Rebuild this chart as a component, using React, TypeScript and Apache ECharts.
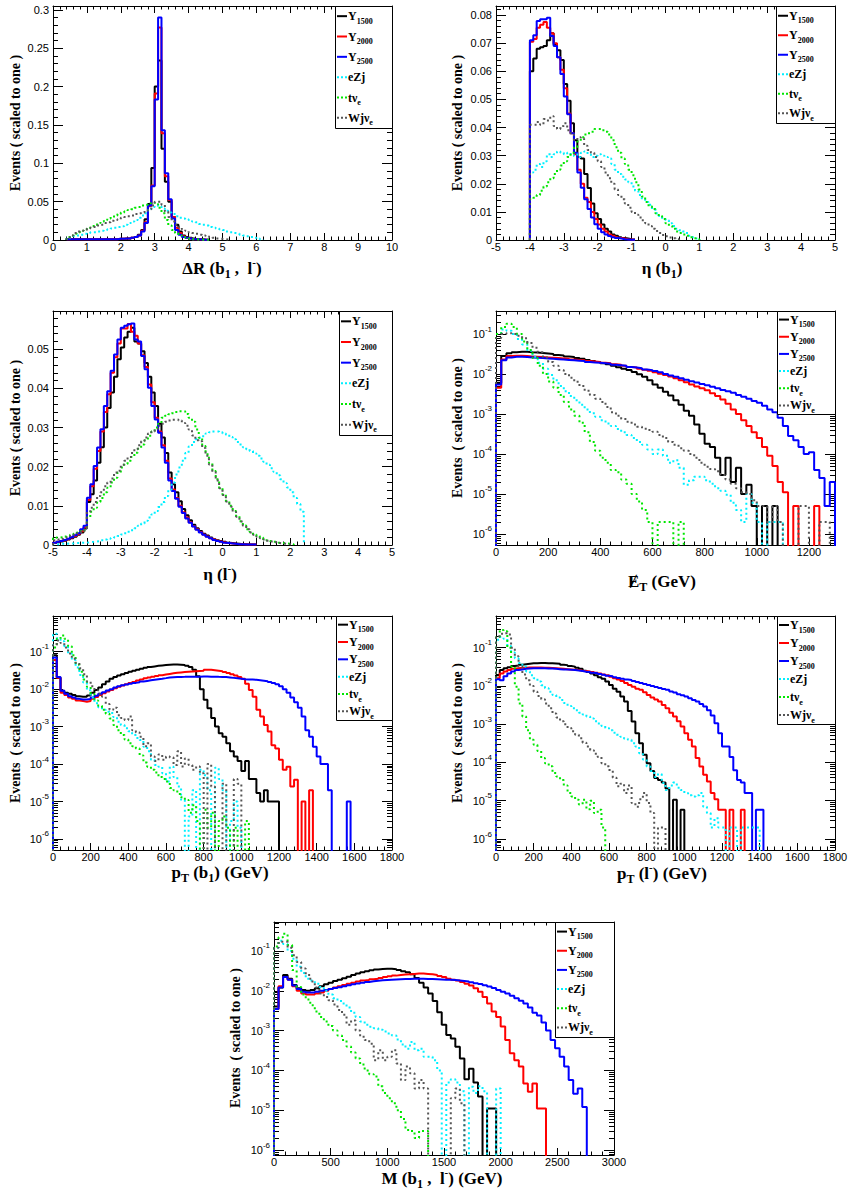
import React, { useEffect, useRef } from 'react';
import * as echarts from 'echarts';

// ---------------- DATA ----------------
// Panel 1: ΔR(b1, l-)  bins of 0.1 starting at 0.4
const DR_START = 0.4;
const DR_STEP = 0.1;
const dR_Y1500 = [0.001,0.001,0.001,0.001,0.001,0.001,0.001,0.001,0.001,0.001,0.001,0.001,0.001,0.001,0.001,0.0015,0.0015,0.002,0.002,0.003,0.004,0.007,0.013,0.027,0.047,0.094,0.2,0.234,0.119,0.076,0.05,0.03,0.02,0.011,0.006,0.004,0.003,0.002,0.001,0.001,0.0005,0.0003];
const dR_Y2000 = [0.001,0.001,0.001,0.001,0.001,0.001,0.001,0.001,0.001,0.001,0.001,0.001,0.001,0.001,0.001,0.0015,0.0015,0.002,0.002,0.003,0.004,0.006,0.012,0.023,0.044,0.071,0.191,0.277,0.139,0.083,0.052,0.03,0.016,0.009,0.005,0.003,0.002,0.001,0.001,0.0005,0.0003,0.0002];
const dR_Y2500 = [0.001,0.001,0.001,0.001,0.001,0.001,0.001,0.001,0.001,0.001,0.001,0.001,0.001,0.001,0.001,0.0015,0.0015,0.002,0.002,0.003,0.004,0.006,0.011,0.022,0.045,0.07,0.183,0.29,0.143,0.087,0.053,0.028,0.013,0.007,0.004,0.003,0.002,0.001,0.001,0.0005,0.0003,0.0002];
const dR_eZj = [0.002,0.004,0.005,0.006,0.007,0.008,0.009,0.01,0.01,0.011,0.012,0.013,0.014,0.015,0.016,0.017,0.018,0.02,0.022,0.024,0.026,0.029,0.032,0.035,0.039,0.043,0.045,0.044,0.041,0.038,0.036,0.034,0.031,0.029,0.028,0.027,0.026,0.024,0.023,0.021,0.02,0.019,0.017,0.016,0.015,0.014,0.013,0.011,0.01,0.009,0.0085,0.007,0.006,0.005,0.004,0.003,0.002,0.001];
const dR_tv = [0.004,0.006,0.008,0.01,0.012,0.014,0.016,0.018,0.02,0.022,0.024,0.026,0.028,0.03,0.032,0.034,0.036,0.037,0.039,0.04,0.042,0.043,0.045,0.046,0.048,0.049,0.047,0.042,0.035,0.026,0.019,0.013,0.009,0.006,0.004,0.003,0.002,0.001,0.0007,0.0005,0.0003,0.0002];
const dR_Wjv = [0.003,0.006,0.009,0.011,0.012,0.013,0.015,0.016,0.017,0.019,0.02,0.022,0.023,0.025,0.026,0.027,0.029,0.03,0.031,0.032,0.034,0.035,0.036,0.038,0.04,0.045,0.05,0.05,0.046,0.037,0.03,0.024,0.02,0.017,0.014,0.012,0.01,0.009,0.008,0.007,0.006,0.005,0.004,0.003,0.002,0.0015,0.001,0.0005];

// Panel 2: η(b1)  bins of 0.1 starting at -4.0
const EB_START = -4.0;
const EB_STEP = 0.1;
const etab_Y1500 = [0.06,0.0645,0.068,0.0685,0.069,0.071,0.0735,0.0695,0.0675,0.064,0.0555,0.0495,0.0415,0.0355,0.0295,0.029,0.0235,0.0185,0.013,0.0095,0.0075,0.0055,0.004,0.003,0.002,0.0015,0.001,0.0007,0.0005,0.0003,0.0002];
const etab_Y2000 = [0.0705,0.0715,0.0755,0.0765,0.0775,0.0755,0.0735,0.07,0.065,0.0605,0.054,0.045,0.038,0.0305,0.025,0.02,0.015,0.0135,0.01,0.0075,0.0055,0.004,0.003,0.002,0.0015,0.001,0.0007,0.0005,0.0003,0.0002,0.0001];
const etab_Y2500 = [0.071,0.0728,0.0779,0.0785,0.0785,0.079,0.0725,0.069,0.065,0.059,0.051,0.0447,0.038,0.031,0.024,0.0186,0.0145,0.011,0.008,0.0056,0.004,0.0028,0.002,0.0014,0.001,0.0007,0.0005,0.0003,0.0002,0.0001,0.0001];
const etab_eZj = [0.024,0.025,0.027,0.026,0.028,0.0305,0.0295,0.0305,0.0315,0.031,0.0305,0.031,0.03,0.0305,0.0295,0.031,0.0315,0.0305,0.0295,0.03,0.0305,0.03,0.0295,0.029,0.027,0.025,0.0235,0.0225,0.0215,0.0205,0.019,0.0175,0.016,0.0145,0.0135,0.0125,0.011,0.0095,0.0085,0.0075,0.007,0.006,0.005,0.004,0.0035,0.003,0.0025,0.0015,0.001,0.0005];
const etab_tv = [0.0145,0.015,0.016,0.0175,0.019,0.0205,0.022,0.0235,0.025,0.0265,0.028,0.0295,0.031,0.033,0.035,0.0365,0.0375,0.038,0.0385,0.0395,0.0395,0.039,0.0385,0.0375,0.0355,0.033,0.031,0.029,0.027,0.025,0.023,0.0205,0.018,0.0155,0.0135,0.012,0.011,0.0095,0.0085,0.0075,0.006,0.005,0.004,0.003,0.0025,0.002,0.0015,0.001,0.0006,0.0003];
const etab_Wjv = [0.041,0.041,0.042,0.041,0.043,0.0425,0.044,0.0405,0.0395,0.0405,0.0415,0.039,0.0375,0.0355,0.0365,0.036,0.0335,0.032,0.031,0.0295,0.028,0.026,0.024,0.022,0.02,0.018,0.016,0.0145,0.013,0.0115,0.01,0.009,0.008,0.007,0.006,0.005,0.004,0.0032,0.0025,0.0018,0.0013,0.0009,0.0006,0.0003];

// Panel 3: η(l-)  bins of 0.1 starting at -5.0
const EL_START = -5.0;
const EL_STEP = 0.1;
const etal_Y1500 = [0.0005,0.0007,0.0009,0.0011,0.0014,0.0017,0.0021,0.0026,0.0032,0.0042,0.011,0.013,0.0165,0.021,0.025,0.03,0.035,0.039,0.043,0.0475,0.0505,0.053,0.0545,0.0555,0.052,0.0515,0.0495,0.0465,0.043,0.039,0.0355,0.031,0.0275,0.0235,0.0185,0.0155,0.0135,0.0112,0.0092,0.0076,0.0063,0.0052,0.0043,0.0036,0.0029,0.0024,0.0019,0.0015,0.0012,0.001,0.0008,0.0006,0.0005,0.0004,0.0003,0.0002,0.0002,0.0001,0.0001,0.0001];
const etal_Y2000 = [0.0006,0.0008,0.001,0.0012,0.0015,0.0019,0.0023,0.0028,0.0035,0.0045,0.0115,0.015,0.0195,0.024,0.029,0.034,0.0385,0.044,0.048,0.0515,0.0553,0.0553,0.0565,0.0545,0.0535,0.0515,0.0485,0.0455,0.041,0.0365,0.0325,0.029,0.0255,0.0215,0.017,0.0142,0.012,0.01,0.0084,0.007,0.0058,0.0048,0.004,0.0033,0.0027,0.0022,0.0017,0.0014,0.0011,0.0009,0.0007,0.0005,0.0004,0.0003,0.0002,0.0002,0.0001,0.0001,0.0001,0.0001];
const etal_Y2500 = [0.0006,0.0008,0.001,0.0013,0.0016,0.002,0.0025,0.003,0.004,0.0049,0.0121,0.0155,0.0202,0.0249,0.0296,0.0355,0.0393,0.0445,0.0487,0.0525,0.0555,0.056,0.0564,0.0566,0.0525,0.052,0.0483,0.0449,0.0402,0.0355,0.0321,0.0287,0.0249,0.021,0.0165,0.0138,0.0118,0.0098,0.0082,0.0068,0.0057,0.0047,0.0039,0.0032,0.0026,0.0021,0.0017,0.0013,0.001,0.0008,0.0006,0.0005,0.0004,0.0003,0.0002,0.0002,0.0001,0.0001,0.0001,0.0001];
const etal_eZj = [0.0002,0.0002,0.0003,0.0003,0.0004,0.0004,0.0005,0.0005,0.0006,0.0006,0.0007,0.0008,0.0009,0.001,0.0012,0.0014,0.0016,0.0018,0.002,0.0023,0.0027,0.003,0.0034,0.0038,0.0043,0.0049,0.0055,0.0062,0.007,0.0078,0.0087,0.0097,0.011,0.0125,0.0142,0.016,0.018,0.0198,0.0215,0.0235,0.0252,0.0263,0.027,0.0274,0.0278,0.0285,0.0288,0.029,0.029,0.0288,0.0285,0.0282,0.0276,0.027,0.0263,0.0257,0.025,0.0245,0.024,0.0234,0.0228,0.0221,0.0213,0.0205,0.0196,0.0187,0.0178,0.0168,0.0158,0.0147,0.0135,0.012,0.0105,0.0085];
const etal_tv = [0.0017,0.0019,0.002,0.0022,0.0024,0.0026,0.0029,0.0032,0.0035,0.0038,0.007,0.0085,0.0095,0.011,0.012,0.0135,0.0146,0.016,0.0172,0.0185,0.0198,0.0207,0.0215,0.0225,0.0236,0.0246,0.0257,0.0268,0.0279,0.029,0.03,0.031,0.0325,0.033,0.0334,0.0337,0.034,0.0342,0.0342,0.0335,0.0325,0.0315,0.0295,0.0274,0.0253,0.0232,0.021,0.0189,0.0168,0.0146,0.0129,0.0112,0.01,0.0087,0.0074,0.0061,0.005,0.004,0.0033,0.0027,0.0023,0.0019,0.0015,0.0012,0.001,0.0008,0.0006,0.0005,0.0004,0.0003,0.0002];
const etal_Wjv = [0.0012,0.0014,0.0016,0.0018,0.002,0.0023,0.0026,0.003,0.0033,0.0037,0.0085,0.0095,0.011,0.0125,0.0135,0.015,0.016,0.017,0.0185,0.019,0.0205,0.0215,0.0225,0.0235,0.0245,0.0255,0.0265,0.0275,0.0285,0.029,0.0297,0.0305,0.031,0.0315,0.0318,0.032,0.0321,0.0318,0.0312,0.0305,0.0295,0.028,0.0268,0.0265,0.0248,0.0228,0.0206,0.0186,0.0165,0.0145,0.0128,0.0111,0.0098,0.0085,0.0072,0.006,0.0049,0.004,0.0032,0.0026,0.0021,0.0017,0.0014,0.0011,0.0009,0.0007,0.0005,0.0004,0.0003,0.0002,0.0001];

// Panel 4: missing ET  bins of 20 GeV starting at 0
const MET_START = 0;
const MET_STEP = 20;
const met_Y1500 = [6e-3,2.8e-2,3.3e-2,3.5e-2,3.6e-2,3.6e-2,3.5e-2,3.45e-2,3.35e-2,3.25e-2,3.15e-2,3e-2,2.9e-2,2.75e-2,2.65e-2,2.5e-2,2.4e-2,2.25e-2,2.1e-2,2e-2,1.85e-2,1.75e-2,1.6e-2,1.48e-2,1.36e-2,1.25e-2,1.12e-2,9.8e-3,8.5e-3,7e-3,5.5e-3,4.5e-3,3.6e-3,2.9e-3,2.2e-3,1.7e-3,1.2e-3,9e-4,5.5e-4,3.2e-4,1.8e-4,1.5e-4,8e-5,3e-5,8e-5,2e-5,4.5e-5,1e-5,1.7e-5,5e-6,0,5e-6,0,5e-6];
const met_Y2000 = [4.5e-3,2.3e-2,2.8e-2,2.85e-2,2.85e-2,2.8e-2,2.75e-2,2.7e-2,2.65e-2,2.6e-2,2.55e-2,2.5e-2,2.45e-2,2.4e-2,2.3e-2,2.25e-2,2.2e-2,2.1e-2,2.05e-2,2e-2,1.9e-2,1.85e-2,1.75e-2,1.7e-2,1.6e-2,1.5e-2,1.45e-2,1.35e-2,1.28e-2,1.2e-2,1.1e-2,1.02e-2,9.5e-3,8.6e-3,7.8e-3,7e-3,6.2e-3,5.5e-3,4.9e-3,4.4e-3,3.9e-3,3.3e-3,2.8e-3,2.3e-3,1.8e-3,1.3e-3,1e-3,7e-4,5e-4,3.5e-4,2.5e-4,1.5e-4,9e-5,5e-5,2e-5,1.1e-5,0,5e-6,0,0,0,5e-6];
const met_Y2500 = [5.5e-3,2.2e-2,2.6e-2,2.7e-2,2.7e-2,2.65e-2,2.6e-2,2.55e-2,2.5e-2,2.45e-2,2.4e-2,2.35e-2,2.3e-2,2.25e-2,2.2e-2,2.15e-2,2.1e-2,2e-2,1.95e-2,1.9e-2,1.85e-2,1.8e-2,1.7e-2,1.65e-2,1.6e-2,1.5e-2,1.45e-2,1.4e-2,1.3e-2,1.25e-2,1.18e-2,1.1e-2,1e-2,9.2e-3,8.5e-3,7.8e-3,7.2e-3,6.6e-3,6.1e-3,5.6e-3,5.2e-3,4.8e-3,4.4e-3,4e-3,3.7e-3,3.4e-3,3e-3,2.7e-3,2.4e-3,2.1e-3,1.9e-3,1.6e-3,1.3e-3,1.1e-3,8e-4,5e-4,2.8e-4,2.2e-4,1.5e-4,1e-4,1.1e-4,4e-5,2.5e-5,5e-6,2e-5];
const met_eZj = [1e-1,1.3e-1,1.2e-1,1e-1,7.5e-2,5.5e-2,3.8e-2,2.7e-2,1.9e-2,1.35e-2,9.5e-3,7e-3,5e-3,3.7e-3,2.8e-3,2.2e-3,1.7e-3,1.3e-3,1.05e-3,8.5e-4,7e-4,5.8e-4,5e-4,4.2e-4,3.5e-4,3e-4,2.5e-4,2e-4,1.7e-4,1.3e-4,1e-4,1.3e-4,9e-5,6e-5,7e-5,4.5e-5,1.7e-5,2.2e-5,2.7e-5,2.7e-5,2.2e-5,1.8e-5,1.4e-5,1.2e-5,9.6e-6,6e-6,4e-6,2e-6,1e-5,6e-6,2e-6,0,2e-6,2e-6,2e-6,0];
const met_tv = [1e-1,1.5e-1,1.8e-1,1.5e-1,1e-1,6.5e-2,4e-2,2.5e-2,1.6e-2,1e-2,6.5e-3,4.5e-3,3e-3,2e-3,1.3e-3,9e-4,6e-4,3.5e-4,2e-4,1.2e-4,8e-5,6e-5,4e-5,3.5e-5,2.3e-5,1.8e-5,1e-5,6.5e-6,4e-6,2e-6,0,2e-6,2e-6,2e-6,0,2e-6,0];
const met_Wjv = [8e-2,1e-1,1.05e-1,1e-1,9e-2,7.8e-2,6e-2,4.5e-2,3.5e-2,2.6e-2,2e-2,1.6e-2,1.25e-2,1e-2,8e-3,6.4e-3,5e-3,3.8e-3,3e-3,2.4e-3,2e-3,1.5e-3,1.1e-3,9e-4,7.5e-4,6.4e-4,5.5e-4,4.8e-4,4.3e-4,4e-4,3.6e-4,3e-4,2.5e-4,2e-4,1.7e-4,1.4e-4,1.2e-4,1e-4,8e-5,6e-5,4.8e-5,4.2e-5,3.7e-5,3e-5,2.3e-5,1.8e-5,1.4e-5,1.1e-5,1e-5,7e-6,5e-6,5e-6,2e-6,5e-6,2e-6,0,0,0,5e-6,5e-6,0,0,2e-6,2e-6,0];

// Panel 5: pT(b1)  bins of 20 GeV starting at 0
const PTB_START = 0;
const PTB_STEP = 20;
const ptb_Y1500 = [8e-2,2e-2,9e-3,8e-3,7.5e-3,7e-3,6.5e-3,6.3e-3,6.3e-3,6.8e-3,8e-3,9.5e-3,1.1e-2,1.35e-2,1.6e-2,1.9e-2,2.1e-2,2.3e-2,2.5e-2,2.7e-2,2.9e-2,3.1e-2,3.3e-2,3.5e-2,3.7e-2,3.9e-2,4.05e-2,4.2e-2,4.3e-2,4.4e-2,4.5e-2,4.55e-2,4.55e-2,4.5e-2,4.4e-2,4.2e-2,3.9e-2,3.3e-2,2.2e-2,1e-2,5.2e-3,3.1e-3,1.7e-3,1e-3,6.6e-4,5.4e-4,3.6e-4,2.2e-4,1.6e-4,1.2e-4,6.5e-5,1.2e-4,4e-5,4e-5,1.7e-5,1e-5,2e-5,1e-5,1e-5,1e-5];
const ptb_Y2000 = [6e-2,2e-2,8e-3,7e-3,6e-3,5.5e-3,5e-3,4.8e-3,4.6e-3,4.8e-3,5.5e-3,6.2e-3,7e-3,7.8e-3,8.6e-3,9.5e-3,1.05e-2,1.15e-2,1.25e-2,1.35e-2,1.45e-2,1.55e-2,1.7e-2,1.8e-2,1.95e-2,2.05e-2,2.15e-2,2.25e-2,2.35e-2,2.45e-2,2.55e-2,2.65e-2,2.75e-2,2.8e-2,2.85e-2,2.9e-2,2.95e-2,3e-2,3.05e-2,3.1e-2,3.3e-2,3.3e-2,3.2e-2,3.1e-2,3e-2,2.85e-2,2.7e-2,2.5e-2,2.3e-2,2.1e-2,1.9e-2,1.4e-2,9.5e-3,6.3e-3,2.8e-3,1.85e-3,1.1e-3,7.4e-4,3.2e-4,2.6e-4,1.3e-4,7e-5,8.5e-5,2.5e-5,3.8e-5,0,1e-5,0,2e-5];
const ptb_Y2500 = [7e-2,2.1e-2,9e-3,7.5e-3,6.5e-3,6e-3,5.5e-3,5.3e-3,5.3e-3,5.5e-3,6e-3,6.7e-3,7.5e-3,8.3e-3,9.2e-3,1e-2,1.1e-2,1.2e-2,1.27e-2,1.33e-2,1.4e-2,1.47e-2,1.53e-2,1.6e-2,1.66e-2,1.72e-2,1.78e-2,1.84e-2,1.9e-2,1.97e-2,2.05e-2,2.08e-2,2.1e-2,2.12e-2,2.13e-2,2.15e-2,2.15e-2,2.15e-2,2.15e-2,2.17e-2,2.17e-2,2.15e-2,2.15e-2,2.13e-2,2.12e-2,2.1e-2,2.05e-2,2e-2,1.95e-2,1.9e-2,1.85e-2,1.82e-2,1.8e-2,1.77e-2,1.73e-2,1.68e-2,1.62e-2,1.55e-2,1.45e-2,1.35e-2,1.2e-2,1e-2,8e-3,6e-3,4.5e-3,3.2e-3,1.85e-3,8e-4,5.4e-4,2.9e-4,1.6e-4,1e-4,1e-4,2e-5,0,0,0,0,1e-5];
const ptb_eZj = [3e-1,2.3e-1,1.9e-1,1.4e-1,9e-2,6e-2,3.8e-2,2.4e-2,1.5e-2,9.4e-3,6e-3,4.2e-3,3.3e-3,2.8e-3,2.5e-3,2.3e-3,1.8e-3,1.35e-3,1.1e-3,9e-4,7.5e-4,6e-4,5e-4,4.4e-4,2.9e-4,2.2e-4,1.3e-4,9.5e-5,8.5e-5,5.7e-5,3.4e-5,8.5e-5,4.5e-5,2.5e-5,1.1e-5,0,4e-6,2e-5,0,7e-5,5e-5,2e-5,0,8e-5,4e-5,2e-5,0,3e-6,1e-5,2e-6,0];
const ptb_tv = [1.3e-1,2.2e-1,2.7e-1,2.2e-1,1.4e-1,8e-2,4.5e-2,2.9e-2,1.8e-2,1.15e-2,7.5e-3,5e-3,3.6e-3,2.8e-3,2.2e-3,1.65e-3,1.1e-3,8e-4,6e-4,4.5e-4,3.6e-4,3e-4,2.6e-4,1.7e-4,1.1e-4,8.5e-5,7e-5,6e-5,4.5e-5,4e-5,3.4e-5,2.3e-5,2e-5,1.6e-5,1.3e-5,1.1e-5,5e-6,8e-6,3e-6,0,6e-6,2e-6,5e-6,0,3e-6,4e-6,2e-6,0,2e-6,0,0,3e-6,0];
const ptb_Wjv = [1.5e-1,2e-1,1.7e-1,1.3e-1,9e-2,6.5e-2,5e-2,3.6e-2,2.5e-2,1.6e-2,1.2e-2,9.4e-3,7.5e-3,6.3e-3,4e-3,2.8e-3,3.2e-3,2e-3,1.7e-3,1.5e-3,1.85e-3,8e-4,7e-4,5.4e-4,3e-4,3.6e-4,1.6e-4,1.2e-4,1.8e-4,1.3e-4,1.6e-4,1.5e-4,9.5e-5,2.2e-4,8.6e-5,1.4e-4,9.5e-5,7e-5,8.6e-5,5.7e-5,0,1e-4,2.5e-5,0,0,3e-5,0,0,4e-5,3e-5,0];

// Panel 6: pT(l-)  bins of 20 GeV starting at 0
const PTL_START = 0;
const PTL_STEP = 20;
const ptl_Y1500 = [1.9e-2,2.6e-2,2.9e-2,3.1e-2,3.3e-2,3.4e-2,3.6e-2,3.7e-2,3.8e-2,3.9e-2,3.9e-2,3.95e-2,3.95e-2,3.9e-2,3.9e-2,3.85e-2,3.8e-2,3.6e-2,3.5e-2,3.3e-2,3.2e-2,3e-2,2.8e-2,2.5e-2,2.3e-2,2.1e-2,1.9e-2,1.7e-2,1.55e-2,1.3e-2,1.06e-2,8.5e-3,7e-3,5.3e-3,3.9e-3,2.2e-3,1.17e-3,5.8e-4,3.2e-4,1.6e-4,9.6e-5,6e-5,3.9e-5,3.5e-5,3e-5,2.1e-5,0,1.06e-5,0,5.8e-6,0];
const ptl_Y2000 = [1.6e-2,2.1e-2,2.4e-2,2.6e-2,2.8e-2,2.9e-2,3e-2,3e-2,3.05e-2,3.05e-2,3.05e-2,3.05e-2,3e-2,3e-2,2.95e-2,2.9e-2,2.85e-2,2.8e-2,2.75e-2,2.7e-2,2.65e-2,2.6e-2,2.5e-2,2.45e-2,2.4e-2,2.3e-2,2.2e-2,2.1e-2,2e-2,1.9e-2,1.75e-2,1.6e-2,1.48e-2,1.35e-2,1.2e-2,1.06e-2,9.5e-3,8.5e-3,7.9e-3,6.8e-3,5.8e-3,5e-3,4.4e-3,3.9e-3,3.2e-3,2.6e-3,2e-3,1.6e-3,1.2e-3,8.7e-4,5.8e-4,3.9e-4,2.6e-4,1.3e-4,7.9e-5,4.8e-5,3.2e-5,1.6e-5,1.1e-5,5.8e-6,5.8e-6,0,5.8e-6,0,0,5.8e-6];
const ptl_Y2500 = [1.5e-2,1.4e-2,1.8e-2,2.1e-2,2.4e-2,2.6e-2,2.7e-2,2.8e-2,2.85e-2,2.9e-2,2.9e-2,2.9e-2,2.9e-2,2.85e-2,2.85e-2,2.8e-2,2.75e-2,2.7e-2,2.7e-2,2.65e-2,2.6e-2,2.55e-2,2.45e-2,2.35e-2,2.3e-2,2.2e-2,2.15e-2,2.05e-2,1.95e-2,1.85e-2,1.8e-2,1.7e-2,1.62e-2,1.55e-2,1.48e-2,1.43e-2,1.35e-2,1.27e-2,1.2e-2,1.13e-2,1.06e-2,1e-2,9.4e-3,8.8e-3,8.3e-3,7.9e-3,7.2e-3,6.7e-3,6.1e-3,5.7e-3,5.3e-3,4.8e-3,4.3e-3,3.9e-3,3.4e-3,2.9e-3,2.3e-3,1.7e-3,1.06e-3,5.8e-4,2.6e-4,2.6e-4,1.4e-4,6.3e-5,3.5e-5,3e-5,1.6e-5,1.6e-5,0,5.8e-6,5.8e-6,0];
const ptl_eZj = [1.6e-1,1.9e-1,1.7e-1,1.1e-1,7.5e-2,5.3e-2,4e-2,3.2e-2,2.4e-2,1.9e-2,1.6e-2,1.3e-2,1.05e-2,8.7e-3,7e-3,5.8e-3,5e-3,4.3e-3,3.6e-3,3e-3,2.6e-3,2.3e-3,2e-3,1.8e-3,1.6e-3,1.4e-3,1.2e-3,1.05e-3,9e-4,8e-4,7e-4,6e-4,5.3e-4,4.7e-4,4.2e-4,3.9e-4,3.2e-4,2.6e-4,1.75e-4,1.2e-4,7.9e-5,6e-5,4.2e-5,5e-5,2.9e-5,1.9e-5,2.5e-5,3e-5,2.2e-5,1.9e-5,1.6e-5,1.4e-5,1.3e-5,1.4e-5,1.6e-5,7e-6,4.8e-6,2e-6,3.5e-6,2e-6,2e-6,0,2e-6,2e-6,0,2e-6,2e-6,2e-6,2e-6,2e-6,0];
const ptl_tv = [1.9e-1,2.9e-1,2.7e-1,1e-1,3.2e-2,9.6e-3,3.5e-3,1.6e-3,7e-4,3.9e-4,2.9e-4,2e-4,1.3e-4,9.6e-5,8e-5,5.3e-5,4.3e-5,3.5e-5,2.5e-5,1.6e-5,1.3e-5,1.06e-5,8e-6,1.06e-5,6e-6,1e-5,4.8e-6,5.8e-6,2e-6,0];
const ptl_Wjv = [2e-1,2.3e-1,2.4e-1,2.2e-1,1e-1,6e-2,3.2e-2,2e-2,1.4e-2,1e-2,7.1e-3,5.5e-3,4.5e-3,3.5e-3,2.6e-3,1.9e-3,1.5e-3,1.2e-3,1e-3,8e-4,6.5e-4,5.3e-4,4.3e-4,3.3e-4,2.6e-4,2.1e-4,1.7e-4,1.4e-4,9.6e-5,8e-5,6.4e-5,4e-5,2.4e-5,2.8e-5,1.6e-5,2.5e-5,8.7e-6,7e-6,1.1e-5,1.6e-5,8.7e-6,4.8e-6,0,2e-6,2e-6,0];

// Panel 7: M(b1, l-)  bins of 40 GeV starting at 0
const M_START = 0;
const M_STEP = 40;
const m_Y1500 = [4e-3,1.2e-2,2.5e-2,2e-2,1.4e-2,1.15e-2,1.05e-2,1e-2,1.05e-2,1.15e-2,1.3e-2,1.45e-2,1.6e-2,1.75e-2,1.9e-2,2.05e-2,2.25e-2,2.5e-2,2.7e-2,2.9e-2,3.1e-2,3.25e-2,3.4e-2,3.5e-2,3.55e-2,3.55e-2,3.45e-2,3.3e-2,3.1e-2,2.9e-2,2.6e-2,2.1e-2,1.6e-2,1.2e-2,8.5e-3,5.5e-3,2.9e-3,1.4e-3,7.7e-4,6.3e-4,3.9e-4,2e-4,6e-5,1.1e-4,5e-5,2.2e-5,0,1.1e-5,1.1e-5];
const m_Y2000 = [3.5e-3,1.3e-2,2.2e-2,1.9e-2,1.3e-2,1e-2,8.5e-3,8e-3,8e-3,8.5e-3,9e-3,1e-2,1.1e-2,1.2e-2,1.3e-2,1.4e-2,1.5e-2,1.6e-2,1.7e-2,1.8e-2,1.85e-2,1.95e-2,2e-2,2.1e-2,2.2e-2,2.3e-2,2.4e-2,2.5e-2,2.55e-2,2.6e-2,2.65e-2,2.7e-2,2.7e-2,2.65e-2,2.6e-2,2.5e-2,2.35e-2,2.2e-2,2e-2,1.9e-2,1.8e-2,1.65e-2,1.5e-2,1.35e-2,1.15e-2,9.4e-3,7e-3,4.8e-3,3e-3,2.2e-3,1.26e-3,5.8e-4,2.7e-4,1.8e-4,1.25e-4,4.7e-5,2.9e-5,4.7e-5,1.1e-5,1.1e-5];
const m_Y2500 = [3.5e-3,1.2e-2,2.2e-2,1.9e-2,1.35e-2,1.1e-2,9.5e-3,9e-3,9e-3,9.5e-3,1e-2,1.05e-2,1.1e-2,1.17e-2,1.23e-2,1.3e-2,1.37e-2,1.45e-2,1.52e-2,1.6e-2,1.67e-2,1.73e-2,1.78e-2,1.83e-2,1.87e-2,1.9e-2,1.93e-2,1.95e-2,1.97e-2,1.98e-2,2e-2,2e-2,2e-2,1.98e-2,1.97e-2,1.95e-2,1.93e-2,1.9e-2,1.88e-2,1.85e-2,1.8e-2,1.75e-2,1.7e-2,1.63e-2,1.55e-2,1.47e-2,1.38e-2,1.28e-2,1.18e-2,1.05e-2,9.4e-3,8.5e-3,7.5e-3,6.5e-3,5.6e-3,4.8e-3,3.8e-3,2.8e-3,2.4e-3,1.6e-3,1e-3,5.8e-4,3.6e-4,2.2e-4,1.25e-4,5.7e-5,2.6e-5,3.5e-5,1.2e-5];
const m_eZj = [1.2e-1,1.8e-1,1.5e-1,1e-1,6.4e-2,4e-2,2.8e-2,2e-2,1.8e-2,1.5e-2,1.25e-2,1e-2,8e-3,6.5e-3,5.5e-3,4.8e-3,3.8e-3,2.8e-3,2.2e-3,1.7e-3,1.4e-3,1.25e-3,1.15e-3,1.05e-3,9.5e-4,8.5e-4,7.5e-4,6e-4,4.5e-4,3.5e-4,5.2e-4,3.2e-4,3.5e-4,2.2e-4,2.2e-4,1.8e-4,1e-4,0,5e-5,6e-5,5e-5,3e-5,0,3.9e-5,2.7e-5,4e-5,3e-5,0,0,3.5e-5,0];
const m_tv = [1.3e-1,2.2e-1,2.7e-1,1.4e-1,3.3e-2,1.25e-2,8e-3,6e-3,4.3e-3,3e-3,2.2e-3,1.7e-3,1.3e-3,1e-3,7.5e-4,5.8e-4,4e-4,2.8e-4,2e-4,1.4e-4,1e-4,8e-5,7e-5,4e-5,2.7e-5,2e-5,1.5e-5,1e-5,6e-6,3.2e-6,3e-6,2e-6,3e-6,3e-6,0];
const m_Wjv = [1.2e-1,1.7e-1,1.7e-1,1.2e-1,7.8e-2,5.3e-2,3.6e-2,2.5e-2,1.7e-2,1.2e-2,8.5e-3,7e-3,5.8e-3,4.5e-3,3.3e-3,2.5e-3,1.4e-3,1.8e-3,1e-3,7e-4,5.8e-4,4.7e-4,1.8e-4,3.2e-4,1.8e-4,2.2e-4,3.2e-4,1.5e-4,5.7e-5,1.25e-4,8.5e-5,3.5e-5,5.7e-5,3.5e-5,0,0,0,0,0,2e-5,3.5e-5,1.5e-5,0];

// Legend labels: [main, subscript]
const LEGEND_LABELS: [string, string][] = [['Y', '1500'], ['Y', '2000'], ['Y', '2500'], ['eZj', ''], ['tν', 'e'], ['Wjν', 'e']];

// ---------------- STYLE / LAYOUT ----------------
const SERIF = '"Liberation Serif", "DejaVu Serif", serif';
const SANS = '"Liberation Sans", Arial, sans-serif';
const COLORS = ['#000000', '#ff0000', '#0000ff', '#00f0ff', '#00e600', '#555555'];
const DOTTED = [false, false, false, true, true, true];
const Y_TITLE_LIN = 'Events ( scaled to one )';
const Y_TITLE_LOG = 'Events  ( scaled to one )';

type Panel = {
  grid: { left: number; top: number; width: number; height: number };
  x: [number, number, number];
  xShowMax: boolean;
  log: boolean;
  y: [number, number, number];
  start: number;
  step: number;
  data: number[][];
  xTitle: string;
  xTitlePos: [number, number];
  yTitle: string;
  yTitlePos: [number, number];
  legend: [number, number, number, number];
};

const PANELS: Panel[] = [
  { grid: { left: 53, top: 6, width: 339, height: 234 }, x: [0, 10, 1], xShowMax: true, log: false, y: [0, 0.305, 0.05],
    start: DR_START, step: DR_STEP, data: [dR_Y1500, dR_Y2000, dR_Y2500, dR_eZj, dR_tv, dR_Wjv],
    xTitle: '{a|ΔR (b}{s|1}{a| ,  l}{p|-}{a|)}', xTitlePos: [222, 268], yTitle: Y_TITLE_LIN, yTitlePos: [15, 123], legend: [335, 6, 57, 122] },
  { grid: { left: 496, top: 6, width: 339, height: 234 }, x: [-5, 5, 1], xShowMax: true, log: false, y: [0, 0.0832, 0.01],
    start: EB_START, step: EB_STEP, data: [etab_Y1500, etab_Y2000, etab_Y2500, etab_eZj, etab_tv, etab_Wjv],
    xTitle: '{a|η (b}{s|1}{a|)}', xTitlePos: [662, 268], yTitle: Y_TITLE_LIN, yTitlePos: [457, 123], legend: [776, 6, 59, 117] },
  { grid: { left: 53, top: 311, width: 339, height: 234 }, x: [-5, 5, 1], xShowMax: true, log: false, y: [0, 0.0598, 0.01],
    start: EL_START, step: EL_STEP, data: [etal_Y1500, etal_Y2000, etal_Y2500, etal_eZj, etal_tv, etal_Wjv],
    xTitle: '{a|η (l}{p|-}{a|)}', xTitlePos: [220, 574], yTitle: Y_TITLE_LIN, yTitlePos: [15, 428], legend: [339, 311, 53, 124] },
  { grid: { left: 496, top: 311, width: 339, height: 234 }, x: [0, 1300, 200], xShowMax: false, log: true, y: [5.3e-7, 0.376, 0],
    start: MET_START, step: MET_STEP, data: [met_Y1500, met_Y2000, met_Y2500, met_eZj, met_tv, met_Wjv],
    xTitle: '{a|Ɇ}{s|T}{a| (GeV)}', xTitlePos: [662, 581], yTitle: Y_TITLE_LOG, yTitlePos: [457, 428], legend: [777, 311, 58, 103] },
  { grid: { left: 53, top: 616, width: 339, height: 234 }, x: [0, 1800, 200], xShowMax: true, log: true, y: [5.08e-7, 0.897, 0],
    start: PTB_START, step: PTB_STEP, data: [ptb_Y1500, ptb_Y2000, ptb_Y2500, ptb_eZj, ptb_tv, ptb_Wjv],
    xTitle: '{a|p}{s|T}{a| (b}{s|1}{a|) (GeV)}', xTitlePos: [220, 872], yTitle: Y_TITLE_LOG, yTitlePos: [15, 733], legend: [336, 616, 56, 104] },
  { grid: { left: 496, top: 616, width: 339, height: 234 }, x: [0, 1800, 200], xShowMax: true, log: true, y: [5.16e-7, 0.673, 0],
    start: PTL_START, step: PTL_STEP, data: [ptl_Y1500, ptl_Y2000, ptl_Y2500, ptl_eZj, ptl_tv, ptl_Wjv],
    xTitle: '{a|p}{s|T}{a| (l}{p|-}{a|) (GeV)}', xTitlePos: [662, 873], yTitle: Y_TITLE_LOG, yTitlePos: [457, 733], legend: [777, 616, 58, 108] },
  { grid: { left: 274, top: 922, width: 340, height: 233 }, x: [0, 3000, 500], xShowMax: true, log: true, y: [7.5e-7, 0.533, 0],
    start: M_START, step: M_STEP, data: [m_Y1500, m_Y2000, m_Y2500, m_eZj, m_tv, m_Wjv],
    xTitle: '{a|M (b}{s|1}{a| ,  l}{p|-}{a|) (GeV)}', xTitlePos: [442, 1178], yTitle: Y_TITLE_LOG, yTitlePos: [235, 1038], legend: [555, 922, 59, 115] },
];

const LOG_FLOOR = 1e-9;

function toSteps(start: number, step: number, vals: number[], floor: number): [number, number][] {
  const pts: [number, number][] = [[start, floor]];
  for (let i = 0; i < vals.length; i++) {
    pts.push([+(start + i * step).toFixed(6), vals[i] > 0 ? vals[i] : floor]);
  }
  pts.push([+(start + vals.length * step).toFixed(6), floor]);
  return pts;
}

const TITLE_RICH = {
  a: { fontFamily: SERIF, fontWeight: 'bold', fontSize: 17, fill: '#000', lineHeight: 24, verticalAlign: 'middle' },
  s: { fontFamily: SERIF, fontWeight: 'bold', fontSize: 12, fill: '#000', lineHeight: 12, verticalAlign: 'bottom' },
  p: { fontFamily: SERIF, fontWeight: 'bold', fontSize: 11, fill: '#000', lineHeight: 16, verticalAlign: 'top' },
};
const LEG_RICH = {
  m: { fontFamily: SERIF, fontWeight: 'bold', fontSize: 12, fill: '#000', lineHeight: 18, verticalAlign: 'middle' },
  s: { fontFamily: SERIF, fontWeight: 'bold', fontSize: 8, fill: '#000', lineHeight: 10, verticalAlign: 'bottom' },
};

function buildOption() {
  const grid: any[] = [];
  const xAxis: any[] = [];
  const yAxis: any[] = [];
  const series: any[] = [];
  const graphic: any[] = [];

  PANELS.forEach((p, gi) => {
    grid.push({ ...p.grid, containLabel: false });
    const axisLine = { show: true, onZero: false, lineStyle: { color: '#000', width: 1 } };
    const xBase = {
      type: 'value', gridIndex: gi, min: p.x[0], max: p.x[1], interval: p.x[2],
      axisLine, splitLine: { show: false },
      axisTick: { show: true, inside: true, length: 7, lineStyle: { color: '#000' } },
      minorTick: { show: true, splitNumber: 5, length: 3.5, lineStyle: { color: '#000' } },
    };
    xAxis.push({ ...xBase, position: 'bottom',
      axisLabel: { show: true, fontFamily: SANS, fontSize: 11, color: '#000', margin: 1, showMaxLabel: p.xShowMax,
        formatter: (v: number) => String(+v.toFixed(3)) } });
    xAxis.push({ ...xBase, position: 'top', axisLabel: { show: false } });

    const yBase: any = p.log
      ? { type: 'log', logBase: 10, gridIndex: gi, min: p.y[0], max: p.y[1],
          axisLine, splitLine: { show: false },
          axisTick: { show: true, inside: true, length: 10, lineStyle: { color: '#000' } },
          minorTick: { show: true, splitNumber: 9, length: 5, lineStyle: { color: '#000' } } }
      : { type: 'value', gridIndex: gi, min: p.y[0], max: p.y[1], interval: p.y[2],
          axisLine, splitLine: { show: false },
          axisTick: { show: true, inside: true, length: 10, lineStyle: { color: '#000' } },
          minorTick: { show: true, splitNumber: 5, length: 5, lineStyle: { color: '#000' } } };
    const yLabel = p.log
      ? { show: true, margin: 4, showMinLabel: false, showMaxLabel: false,
          formatter: (v: number) => `{b|10}{s|${Math.round(Math.log10(v))}}`,
          rich: {
            b: { fontFamily: SANS, fontSize: 11, color: '#000', lineHeight: 18, verticalAlign: 'middle' },
            s: { fontFamily: SANS, fontSize: 8, color: '#000', lineHeight: 10, verticalAlign: 'top' },
          } }
      : { show: true, margin: 4, showMaxLabel: false, fontFamily: SANS, fontSize: 11, color: '#000',
          formatter: (v: number) => String(+v.toFixed(4)) };
    yAxis.push({ ...yBase, position: 'left', axisLabel: yLabel });
    yAxis.push({ ...yBase, position: 'right', axisLabel: { show: false } });

    const floor = p.log ? LOG_FLOOR : 0;
    p.data.forEach((vals, si) => {
      series.push({
        type: 'line', name: LEGEND_LABELS[si].join(''), xAxisIndex: 2 * gi, yAxisIndex: 2 * gi,
        step: 'end', showSymbol: false, symbol: 'none', silent: true, clip: true,
        lineStyle: { color: COLORS[si], width: 2, type: DOTTED[si] ? [2, 3] : 'solid' },
        data: toSteps(p.start, p.step, vals, floor),
        z: 2,
      });
    });

    // axis titles
    graphic.push({ type: 'text', x: p.xTitlePos[0], y: p.xTitlePos[1], z: 20,
      style: { text: p.xTitle, rich: TITLE_RICH, textAlign: 'center', align: 'center', textVerticalAlign: 'middle', verticalAlign: 'middle' } });
    graphic.push({ type: 'text', x: p.yTitlePos[0], y: p.yTitlePos[1], rotation: Math.PI / 2, z: 20,
      style: { text: p.yTitle, font: `bold 14px ${SERIF}`, fill: '#000', textAlign: 'center', align: 'center', textVerticalAlign: 'middle', verticalAlign: 'middle' } });

    // legend box
    const [lx, ly, lw, lh] = p.legend;
    graphic.push({ type: 'rect', z: 30, shape: { x: lx + 0.5, y: ly + 0.5, width: lw, height: lh },
      style: { fill: '#fff', stroke: '#000', lineWidth: 1 } });
    LEGEND_LABELS.forEach(([m, s], i) => {
      const cy = ly + lh * (i + 0.5) / 6;
      graphic.push({ type: 'line', z: 31, shape: { x1: lx + 2, y1: cy, x2: lx + 12, y2: cy },
        style: { stroke: COLORS[i], lineWidth: 2, lineDash: DOTTED[i] ? [2, 2] : null } });
      graphic.push({ type: 'text', z: 31, x: lx + 13, y: cy,
        style: { text: s ? `{m|${m}}{s|${s}}` : `{m|${m}}`, rich: LEG_RICH, textAlign: 'left', align: 'left', textVerticalAlign: 'middle', verticalAlign: 'middle' } });
    });
  });

  return { animation: false, backgroundColor: '#fff', grid, xAxis, yAxis, series, graphic };
}

export default function App() {
  const ref = useRef<HTMLDivElement>(null);
  useEffect(() => {
    const chart = echarts.init(ref.current!, null, { renderer: 'svg' });
    chart.setOption(buildOption() as any);
    return () => chart.dispose();
  }, []);
  return <div ref={ref} style={{ position: 'absolute', left: 0, top: 0, width: 853, height: 1199, background: '#fff' }} />;
}
